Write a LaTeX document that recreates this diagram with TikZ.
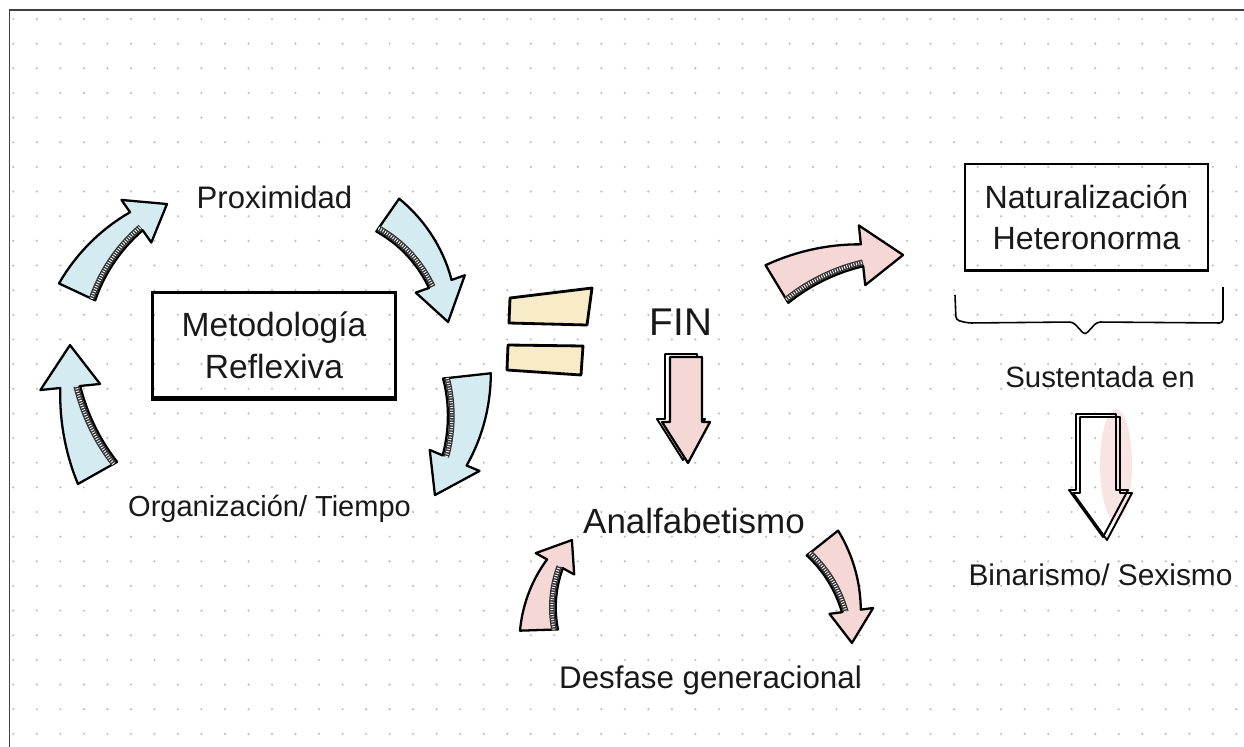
\documentclass[tikz,border=0pt]{standalone}
\usepackage{fontspec}
\setmainfont{Liberation Sans}
\usepackage{tikz}
\usetikzlibrary{calc}
\definecolor{washblue}{HTML}{D4ECF1}
\definecolor{washpink}{HTML}{F5D8D5}
\definecolor{washyellow}{HTML}{F8EBC8}
\definecolor{dotgray}{HTML}{BDBDBD}
% curved block arrow: (centre)(tail:neck:tip:radius:tail width:neck width:head half width)
\def\bentarrow[#1](#2)(#3:#4:#5:#6:#7:#8:#9){
	\draw[#1, shift={(#2)}] plot[domain=#3:#4, samples=16, variable=\t] (\t:{#6+(#7+(#8-#7)*(\t-(#3))/((#4)-(#3)))/2}) -- (#4:{#6+#9}) -- (#5:#6) -- (#4:{#6-#9}) -- plot[domain=#4:#3, samples=16, variable=\t] (\t:{#6-(#7+(#8-#7)*(\t-(#3))/((#4)-(#3)))/2}) -- cycle;
	\draw[hatchdark, shift={(#2)}] plot[domain=#3:#4, samples=16, variable=\t] (\t:{#6-(#7+(#8-#7)*(\t-(#3))/((#4)-(#3)))/2+0.4});
	\draw[hatchlight, shift={(#2)}] plot[domain=#3:#4, samples=16, variable=\t] (\t:{#6-(#7+(#8-#7)*(\t-(#3))/((#4)-(#3)))/2+0.4});
}

\begin{document}
\begin{tikzpicture}[x=0.2cm, y=-0.2cm,
		txt/.style={text=black!90, inner sep=0pt},
		blueshape/.style={draw=black, line width=1.3pt, fill=washblue, line join=round},
		pinkshape/.style={draw=black, line width=1.3pt, fill=washpink, line join=round},
		hatchdark/.style={line width=3.2pt, draw=black!80},
		hatchlight/.style={line width=1.8pt, draw=white, dash pattern=on 0.5pt off 0.9pt}]
			%%%%% START %%%%%
			
			\useasboundingbox (0,0) rectangle (124.4,74.7);
			\foreach \i in {0,...,52}
				\foreach \j in {0,...,29}
					\fill[dotgray] ({1.33+2.352*\i},{1.9+2.465*\j}) circle (0.12);
			\draw[line width=1.1pt, black!75] (124.4,1.0) -- (0.95,1.0) -- (0.95,74.7);
			
			\node[txt, draw=black, line width=1.5pt, minimum width=138pt, minimum height=60pt, align=center, font=\fontsize{19.1}{23.8}\selectfont] (metodo) at (27.4,34.5) {Metodología\\Reflexiva};
			\draw[line width=2.6pt] (metodo.south west) -- (metodo.south east);
			
			\node[txt, anchor=base, font=\fontsize{17.7}{21}\selectfont] (prox) at (27.45,20.8) {Proximidad};
			\node[txt, anchor=base, font=\fontsize{16.5}{20}\selectfont] (organiz) at (26.95,51.6) {Organización/ Tiempo};
			
			\bentarrow[blueshape](23.86,36.72)(205:235:246.3:17.82:4.0:2.2:2.6)
			\bentarrow[blueshape](30.71,33.11)(-55.2:-19.5:-3.7:14.13:4.0:2.4:2.6)
			\bentarrow[blueshape](29.85,39.45)(-6.3:22.9:36.4:16.95:4.8:2.6:2.7)
			\bentarrow[blueshape](28.96,36.47)(150.6:174.2:185.1:22.05:4.5:2.0:3.0)
			
			\draw[line width=1.6pt, fill=washyellow, line join=round] (51.0,29.8) -- (59.2,28.8) -- (58.7,32.5) -- (50.9,32.3) -- cycle;
			\draw[line width=1.6pt, fill=washyellow, line join=round] (50.8,34.5) -- (58.3,34.6) -- (58.1,37.5) -- (50.7,37.0) -- cycle;
			
			\node[txt, anchor=base, font=\fontsize{22}{26}\selectfont] (fin) at (68.1,33.5) {FIN};
			\draw[line width=1.1pt, fill=white, line join=round] (66.5,35.4) -- (69.7,35.4) -- (69.7,41.9) -- (70.5,41.9) -- (68.3,46.0) -- (65.7,41.9) -- (66.5,41.9) -- cycle;
			\draw[pinkshape] (67.0,35.7) -- (70.2,35.7) -- (70.2,42.2) -- (71.0,42.2) -- (68.8,46.3) -- (66.2,42.2) -- (67.0,42.2) -- cycle;
			
			\node[txt, anchor=base, font=\fontsize{19.9}{24}\selectfont] (analf) at (69.4,53.3) {Analfabetismo};
			\node[txt, anchor=base, font=\fontsize{17.8}{21}\selectfont] (desfase) at (71.05,68.8) {Desfase generacional};
			\bentarrow[pinkshape](66.68,62.58)(178.1:209:222.1:12.79:3.8:1.8:2.2)
			\bentarrow[pinkshape](71.32,62.96)(-38.4:-7.7:5.5:13.94:4.0:1.9:2.2)
			
			\bentarrow[pinkshape](88.4,46.08)(238.8:263.9:275.3:20.67:4.4:2.2:3.0)
			
			\node[txt, draw=black, line width=1.1pt, minimum width=137.8pt, minimum height=60pt, align=center, font=\fontsize{18.3}{23.2}\selectfont] (natural) at (108.65,21.7) {Naturalización\\Heteronorma};
			\draw[line width=1.7pt] (natural.south west) -- (natural.south east);
			\draw[line width=0.9pt, rounded corners=2pt] (95.5,29.5) -- (95.6,32.0) -- (96.8,32.3) -- (107.3,32.2) -- (108.5,33.5) -- (109.7,32.2) -- (122.3,32.3) -- (122.3,28.7);
			
			\node[txt, anchor=base, font=\fontsize{16.7}{20}\selectfont] (sust) at (110.0,38.7) {Sustentada en};
			\fill[washpink!70] (111.6,46.5) ellipse (1.6 and 5.6);
			\draw[line width=1.1pt, line join=round] (107.6,41.4) -- (111.6,41.4) -- (111.6,49.0) -- (112.8,49.0) -- (110.3,53.7) -- (106.9,49.0) -- (107.6,49.0) -- cycle;
			\draw[line width=1.1pt, line join=round] (108.0,41.7) -- (112.0,41.7) -- (112.0,49.3) -- (113.2,49.3) -- (110.7,54.0) -- (107.3,49.3) -- (108.0,49.3) -- cycle;
			\node[txt, anchor=base, font=\fontsize{17.0}{20}\selectfont] (binar) at (110.05,58.5) {Binarismo/ Sexismo};
			
			%%%%% END %%%%%
\end{tikzpicture}
\end{document}
